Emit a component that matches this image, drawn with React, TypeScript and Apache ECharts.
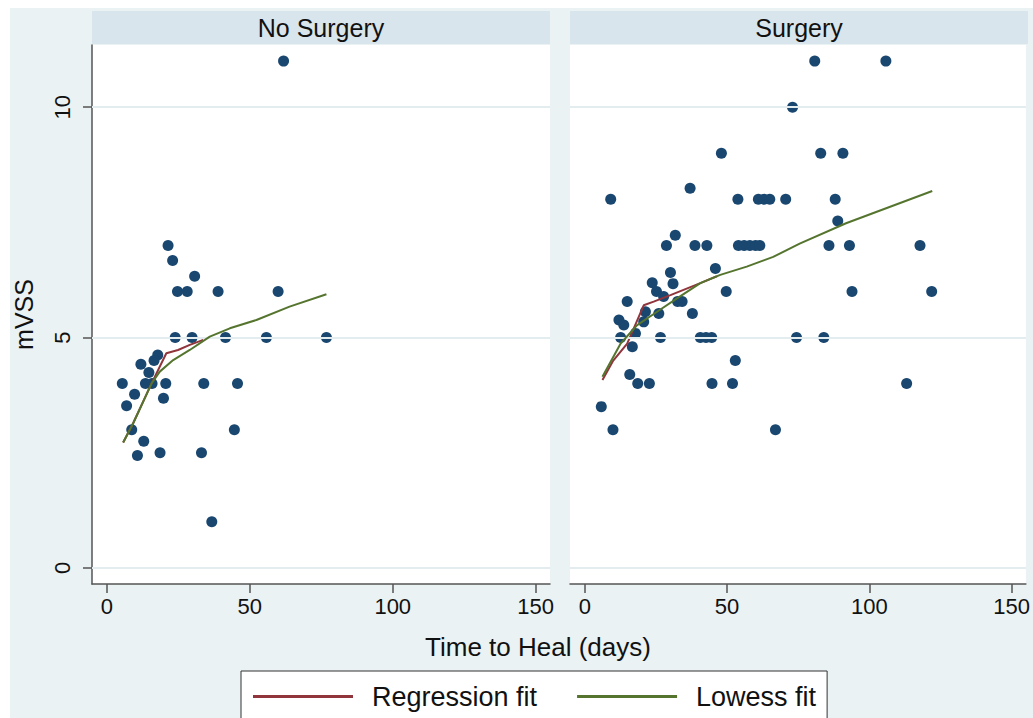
import React, { useEffect, useRef } from "react";
import * as echarts from "echarts";

// ---- data ----
const panelTitles = ["No Surgery", "Surgery"];
const xTicks = [0, 50, 100, 150];
const yTicks = [0, 5, 10];
const legendNames = ["Regression fit", "Lowess fit"];

const noSurgeryDays = [21.4, 23, 30.7, 24.7, 28.1, 38.9, 59.9, 23.9, 29.8, 41.5, 55.8, 76.8, 17.8, 16.5, 11.9, 14.7, 5.4, 13.5, 15.8, 20.6, 33.9, 45.7, 9.7, 19.8, 6.9, 8.7, 44.6, 12.9, 10.7, 18.6, 33.1, 36.7, 61.8];
const noSurgeryMvss = [7, 6.67, 6.33, 6, 6, 6, 6, 5, 5, 5, 5, 5, 4.62, 4.5, 4.42, 4.24, 4, 4, 4, 4, 4, 4, 3.77, 3.68, 3.52, 3, 3, 2.75, 2.44, 2.5, 2.5, 1, 11];

const surgeryDays = [73, 48, 37, 9.1, 53.8, 61, 63, 65, 70.6, 31.8, 28.7, 38.7, 42.9, 54, 56, 58, 60, 61.5, 45.9, 30.1, 23.7, 31, 25.2, 49.7, 27.7, 32.6, 34.2, 14.9, 37.8, 26, 21.3, 20.7, 12, 13.7, 12.6, 17.8, 26.6, 40.6, 42.6, 44.6, 74.4, 16.7, 52.9, 15.8, 18.6, 22.7, 44.7, 51.9, 5.8, 9.9, 67, 80.8, 105.8, 82.9, 90.7, 88, 88.9, 85.8, 93, 117.8, 93.9, 121.9, 84, 113.1];
const surgeryMvss = [10, 9, 8.24, 8, 8, 8, 8, 8, 8, 7.22, 7, 7, 7, 7, 7, 7, 7, 7, 6.5, 6.41, 6.19, 6.17, 6, 6, 5.89, 5.78, 5.78, 5.78, 5.52, 5.52, 5.56, 5.34, 5.38, 5.27, 5, 5.09, 5, 5, 5, 5, 5, 4.8, 4.5, 4.2, 4, 4, 4, 4, 3.5, 3, 3, 11, 11, 9, 9, 8, 7.53, 7, 7, 7, 6, 6, 5, 4];

const noSurgeryRegX = [5.7, 9.2, 12.7, 15.6, 20.8, 24.9, 29, 33.7];
const noSurgeryRegY = [2.72, 3.14, 3.61, 4.0, 4.66, 4.73, 4.84, 4.95];
const noSurgeryLowX = [5.7, 9.2, 12.7, 15.6, 18.5, 23.2, 29, 36, 43, 52.3, 63.9, 76.8];
const noSurgeryLowY = [2.72, 3.14, 3.61, 4.0, 4.26, 4.51, 4.73, 5.02, 5.2, 5.38, 5.67, 5.94];

const surgeryRegX = [6.2, 10, 14.9, 20.7, 24.2, 30.1, 40.6, 46.4];
const surgeryRegY = [4.08, 4.5, 4.87, 5.7, 5.78, 5.92, 6.18, 6.33];
const surgeryLowX = [6.2, 12.6, 18.4, 25.4, 32.4, 40.6, 47.6, 56.9, 66.2, 75.5, 91.8, 122.1];
const surgeryLowY = [4.15, 4.87, 5.27, 5.56, 5.85, 6.18, 6.36, 6.54, 6.75, 7.04, 7.48, 8.18];

const zip = (a: number[], b: number[]) => a.map((v, i) => [v, b[i]]);

const FONT = "Liberation Sans";
const NAVY = "#1a476f";
const MAROON = "#90353b";
const GREEN = "#55752f";
const BG = "#eaf2f3";
const STRIP = "#d9e5ec";
const GRIDLINE = "#e3ecef";
const AXIS = "#555555";

export default function App() {
  const ref = useRef<HTMLDivElement>(null);
  useEffect(() => {
    if (!ref.current) return;
    const chart = echarts.init(ref.current, null, { renderer: "svg" });
    const grids = [
      { left: 92, top: 45, width: 458, height: 539 },
      { left: 570, top: 45, width: 458, height: 539 },
    ];
    const xAxis = grids.map((_, i) => ({
      type: "value",
      gridIndex: i,
      min: -5.2,
      max: 155,
      axisLine: { show: true, onZero: false, lineStyle: { color: AXIS, width: 1.5 } },
      axisTick: { show: true, customValues: xTicks, length: 9, lineStyle: { color: AXIS, width: 1.5 } },
      axisLabel: { customValues: xTicks, fontFamily: FONT, fontSize: 22, color: "#111", margin: 11 },
      splitLine: { show: false },
    }));
    const yAxis = grids.map((_, i) => ({
      type: "value",
      gridIndex: i,
      min: -0.35,
      max: 11.35,
      name: i === 0 ? "mVSS" : "",
      nameLocation: "middle",
      nameGap: 56,
      nameTextStyle: { fontFamily: FONT, fontSize: 25, color: "#111" },
      axisLine: { show: i === 0, onZero: false, lineStyle: { color: AXIS, width: 1.5 } },
      axisTick: { show: i === 0, customValues: yTicks, length: 9, lineStyle: { color: AXIS, width: 1.5 } },
      axisLabel: { show: i === 0, customValues: yTicks, rotate: 90, fontFamily: FONT, fontSize: 22, color: "#111", margin: 19 },
      splitLine: { show: false },
    }));
    const gridLineSeries = grids.map((_, i) => ({
      type: "scatter",
      xAxisIndex: i,
      yAxisIndex: i,
      data: [],
      z: 1,
      silent: true,
      markLine: {
        silent: true,
        symbol: "none",
        label: { show: false },
        lineStyle: { color: GRIDLINE, width: 2, type: "solid" },
        data: yTicks.map((v) => ({ yAxis: v })),
      },
    }));
    const scatterStyle = { color: NAVY, opacity: 1 };
    chart.setOption({
      animation: false,
      backgroundColor: BG,
      textStyle: { fontFamily: FONT },
      grid: grids.map((g) => ({ ...g, show: true, backgroundColor: "#ffffff", borderWidth: 0 })),
      xAxis,
      yAxis,
      legend: {
        data: legendNames.map((n) => ({ name: n, icon: "rect" })),
        left: 241,
        top: 671,
        padding: [12, 11, 14, 12],
        backgroundColor: "#ffffff",
        borderColor: "#333",
        borderWidth: 1,
        borderRadius: 0,
        itemWidth: 100,
        itemHeight: 3,
        itemGap: 40,
        textStyle: { fontFamily: FONT, fontSize: 27, color: "#111", padding: [0, 0, 0, 14] },
      },
      graphic: [
        { type: "rect", shape: { x: 0, y: 0, width: 10, height: 718 }, style: { fill: "#ffffff" }, silent: true },
        { type: "rect", shape: { x: 0, y: 0, width: 1033, height: 8 }, style: { fill: "#ffffff" }, silent: true },
        { type: "rect", shape: { x: 92, y: 11, width: 458, height: 33 }, style: { fill: STRIP }, silent: true },
        { type: "rect", shape: { x: 570, y: 11, width: 458, height: 33 }, style: { fill: STRIP }, silent: true },
        { type: "text", x: 321, y: 28, style: { text: panelTitles[0], fontFamily: FONT, fontSize: 25, fill: "#111", align: "center", verticalAlign: "middle" } },
        { type: "text", x: 799, y: 28, style: { text: panelTitles[1], fontFamily: FONT, fontSize: 25, fill: "#111", align: "center", verticalAlign: "middle" } },
        { type: "text", x: 538, y: 647, style: { text: "Time to Heal (days)", fontFamily: FONT, fontSize: 26, fill: "#111", align: "center", verticalAlign: "middle" } },
      ],
      series: [
        ...gridLineSeries,
        { type: "scatter", name: "No Surgery", xAxisIndex: 0, yAxisIndex: 0, symbolSize: 11, itemStyle: scatterStyle, data: zip(noSurgeryDays, noSurgeryMvss), z: 3 },
        { type: "scatter", name: "Surgery", xAxisIndex: 1, yAxisIndex: 1, symbolSize: 11, itemStyle: scatterStyle, data: zip(surgeryDays, surgeryMvss), z: 3 },
        { type: "line", name: legendNames[0], xAxisIndex: 0, yAxisIndex: 0, symbol: "none", color: MAROON, itemStyle: { color: MAROON }, lineStyle: { color: MAROON, width: 2 }, data: zip(noSurgeryRegX, noSurgeryRegY), z: 4 },
        { type: "line", name: legendNames[1], xAxisIndex: 0, yAxisIndex: 0, symbol: "none", color: GREEN, itemStyle: { color: GREEN }, lineStyle: { color: GREEN, width: 2 }, data: zip(noSurgeryLowX, noSurgeryLowY), z: 5 },
        { type: "line", name: legendNames[0], xAxisIndex: 1, yAxisIndex: 1, symbol: "none", color: MAROON, itemStyle: { color: MAROON }, lineStyle: { color: MAROON, width: 2 }, data: zip(surgeryRegX, surgeryRegY), z: 4 },
        { type: "line", name: legendNames[1], xAxisIndex: 1, yAxisIndex: 1, symbol: "none", color: GREEN, itemStyle: { color: GREEN }, lineStyle: { color: GREEN, width: 2 }, data: zip(surgeryLowX, surgeryLowY), z: 5 },
      ],
    });
    return () => chart.dispose();
  }, []);
  return <div ref={ref} style={{ position: "absolute", left: 0, top: 0, width: 1033, height: 718 }} />;
}
